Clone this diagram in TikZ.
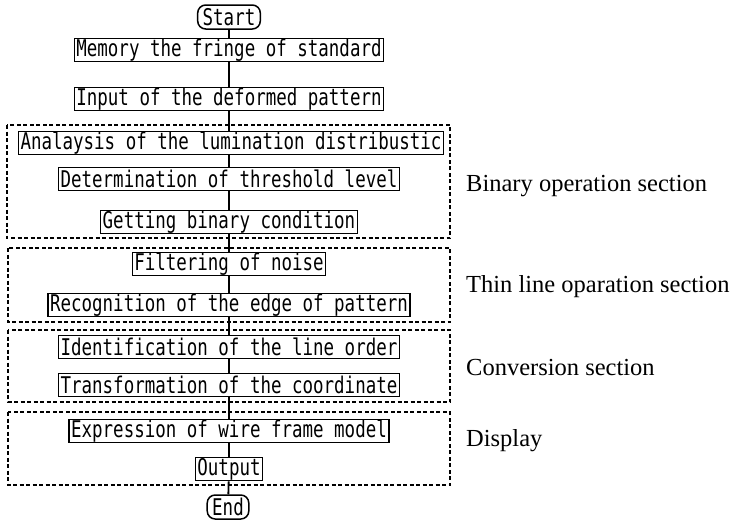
\documentclass[tikz,border=0pt]{standalone}
\usepackage{fontspec}
\setmainfont{Liberation Serif}
\newfontfamily\boxfont[FakeStretch=0.76]{DejaVu Sans Mono}

\begin{document}
\begin{tikzpicture}[
        x=1pt, y=-1pt,
        stepbox/.style={
        draw,
        line width=1.5pt,
        inner xsep=2pt,
        inner ysep=0pt,
        minimum height=23pt,
        font=\boxfont\fontsize{23}{23}\selectfont
      },
      terminal/.style={
        stepbox,
        rounded corners=8pt,
        inner xsep=5pt,
        minimum height=24pt
      },
      section/.style={
        draw,
        line width=1.2pt,
        dash pattern=on 4pt off 2.5pt
      },
      seclabel/.style={
        anchor=west,
        inner sep=0pt,
        font=\fontsize{24.5}{25}\selectfont
      }
    ]

    \useasboundingbox (0, 0) rectangle (735, 520);

    \node[terminal] (start) at (229, 17) {Start};
    \node[stepbox] (memory) at (229, 50) {Memory the fringe of standard};
    \node[stepbox] (input) at (229, 99) {Input of the deformed pattern};

    \node[stepbox] (lumi) at (231, 143) {Analaysis of the lumination distribustic};
    \node[stepbox] (thresh) at (229, 179) {Determination of threshold level};
    \node[stepbox] (binary) at (229, 222) {Getting binary condition};

    \node[stepbox] (noise) at (229, 264) {Filtering of noise};
    \node[stepbox] (edge) at (229, 305) {Recognition of the edge of pattern};

    \node[stepbox] (order) at (229, 347) {Identification of the line order};
    \node[stepbox] (coord) at (229, 385) {Transformation of the coordinate};

    \node[stepbox] (wire) at (229, 431) {Expression of wire frame model};
    \node[stepbox] (output) at (229, 469) {Output};

    \node[terminal] (finish) at (228, 507) {End};

    % sections
    \draw[section] (7, 125) rectangle (450, 238);
    \draw[section] (8, 248) rectangle (450, 322);
    \draw[section] (8, 330) rectangle (450, 402);
    \draw[section] (8, 412) rectangle (450, 485);

    \node[seclabel] (sbin) at (466, 186) {Binary operation section};
    \node[seclabel] (sthin) at (466, 287) {Thin line oparation section};
    \node[seclabel] (sconv) at (466, 367) {Conversion section};
    \node[seclabel] (sdisp) at (466, 441) {Display};

    \draw[line width=1.8pt] (start) -- (memory);
    \draw[line width=1.8pt] (memory) -- (input);
    \draw[line width=1.8pt] (input) -- (lumi.north -| input);
    \draw[line width=1.8pt] (lumi.south -| thresh) -- (thresh);
    \draw[line width=1.8pt] (thresh) -- (binary);
    \draw[line width=1.8pt] (binary) -- (noise);
    \draw[line width=1.8pt] (noise) -- (edge);
    \draw[line width=1.8pt] (edge) -- (order);
    \draw[line width=1.8pt] (order) -- (coord);
    \draw[line width=1.8pt] (coord) -- (wire);
    \draw[line width=1.8pt] (wire) -- (output);
    \draw[line width=1.8pt] (output) -- (finish);

  \end{tikzpicture}
\end{document}
